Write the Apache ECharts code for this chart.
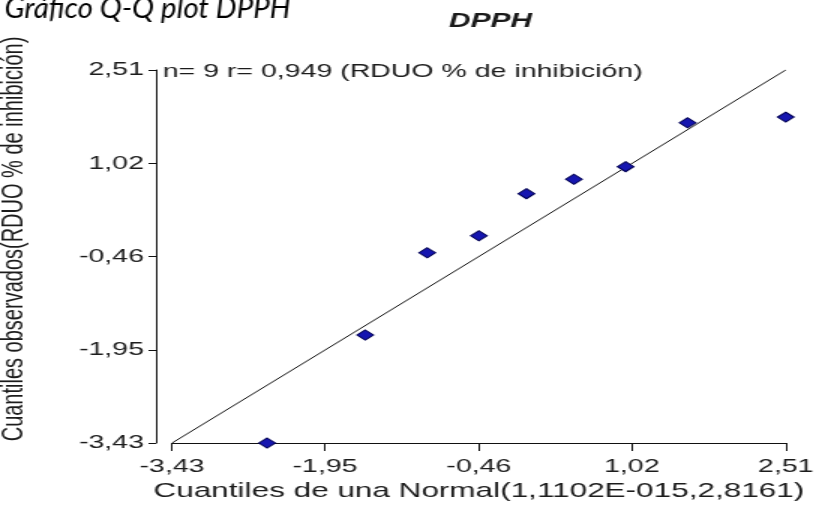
<!DOCTYPE html>
<html>
<head>
<meta charset="utf-8">
<script src="https://cdn.jsdelivr.net/npm/echarts@6/dist/echarts.min.js"></script>
<style>
  html, body { margin: 0; padding: 0; background: #fff; overflow: hidden; }
  #stage { width: 818px; height: 510px; overflow: hidden; position: relative; }
  #main { width: 545.33px; height: 510px; transform: scaleX(1.5); transform-origin: 0 0; position: absolute; left: 0; top: 0; }
</style>
</head>
<body>
<div id="stage"><div id="main"></div></div>
<script>
// ---- data ----
const normalQuantiles   = [-2.51, -1.56, -0.96, -0.46, 0.00, 0.46, 0.96, 1.56, 2.51];
const observedQuantiles = [-3.43, -1.71, -0.40, -0.13, 0.54, 0.77, 0.97, 1.67, 1.76];
const refLineX = [-3.43, 2.51];
const refLineY = [-3.43, 2.51];
const xTickValues = [-3.43, -1.95, -0.46, 1.02, 2.51];
const xTickLabels = ['-3,43', '-1,95', '-0,46', '1,02', '2,51'];
const yTickValues = [-3.43, -1.95, -0.46, 1.02, 2.51];
const yTickLabels = ['-3,43', '-1,95', '-0,46', '1,02', '2,51'];
const chartTitle = 'DPPH';
const captionText = 'Gráfico Q-Q plot DPPH';
const annotationText = 'n= 9 r= 0,949 (RDUO % de inhibición)';
const xAxisTitle = 'Cuantiles de una Normal(1,1102E-015,2,8161)';
const yAxisTitle = 'Cuantiles observados(RDUO % de inhibición)';

function labelFor(values, labels) {
  return function (v) {
    let best = 0, bd = Infinity;
    values.forEach((t, i) => { const d = Math.abs(t - v); if (d < bd) { bd = d; best = i; } });
    return labels[best];
  };
}

const FONT = 'Liberation Sans, Arial, sans-serif';
const chart = echarts.init(document.getElementById('main'), null, { width: 545.33, height: 510, renderer: 'canvas' });

const option = {
  animation: false,
  backgroundColor: '#ffffff',
  title: {
    text: chartTitle,
    left: 322, top: 6,
    textAlign: 'center',
    textStyle: { fontFamily: FONT, fontSize: 20, fontWeight: 'bold', fontStyle: 'italic', color: '#1a1a1a' }
  },
  grid: { left: 114.7, right: 18.6, top: 70, bottom: 67, containLabel: false },
  xAxis: {
    type: 'value', min: -3.43, max: 2.51,
    axisLine: { show: true, onZero: false, lineStyle: { color: '#111', width: 1 } },
    axisTick: { show: true, length: 8, customValues: xTickValues, lineStyle: { color: '#111', width: 1 } },
    axisLabel: { customValues: xTickValues, formatter: labelFor(xTickValues, xTickLabels), fontFamily: FONT, fontSize: 19, color: '#1c1c1c', margin: 14 },
    splitLine: { show: false },
    name: xAxisTitle, nameLocation: 'middle', nameGap: 29,
    nameTextStyle: { fontFamily: FONT, fontSize: 21, color: '#1c1c1c' }
  },
  yAxis: {
    type: 'value', min: -3.43, max: 2.51, offset: 10.7,
    axisLine: { show: true, onZero: false, lineStyle: { color: '#111', width: 1 } },
    axisTick: { show: true, length: 5, customValues: yTickValues, lineStyle: { color: '#111', width: 1 } },
    axisLabel: { customValues: yTickValues, formatter: labelFor(yTickValues, yTickLabels), fontFamily: FONT, fontSize: 19, color: '#1c1c1c', margin: 8 },
    splitLine: { show: false }
  },
  graphic: [
    { type: 'text', x: 3, y: 8, scaleX: 1 / 1.5, style: { text: captionText, font: 'italic 29.5px Lato, "Open Sans", sans-serif', fill: '#000', verticalAlign: 'middle', align: 'left' } },
    { type: 'text', x: 108.5, y: 72, style: { text: annotationText, font: '19px ' + FONT, fill: '#1c1c1c', verticalAlign: 'middle', align: 'left' } },
    { type: 'text', x: 9, y: 239, rotation: Math.PI / 2, style: { text: yAxisTitle, font: '20px ' + FONT, fill: '#1c1c1c', align: 'center', verticalAlign: 'middle' } }
  ],
  series: [
    {
      type: 'line',
      data: refLineX.map((x, i) => [x, refLineY[i]]),
      showSymbol: false, symbol: 'none',
      lineStyle: { color: '#111', width: 1 },
      z: 2, silent: true
    },
    {
      type: 'scatter',
      data: normalQuantiles.map((x, i) => [x, observedQuantiles[i]]),
      symbol: 'diamond', symbolSize: [11, 10],
      itemStyle: { color: '#1616b0', borderColor: '#000055', borderWidth: 1, opacity: 1 },
      z: 3
    }
  ]
};
chart.setOption(option);
</script>
</body>
</html>
